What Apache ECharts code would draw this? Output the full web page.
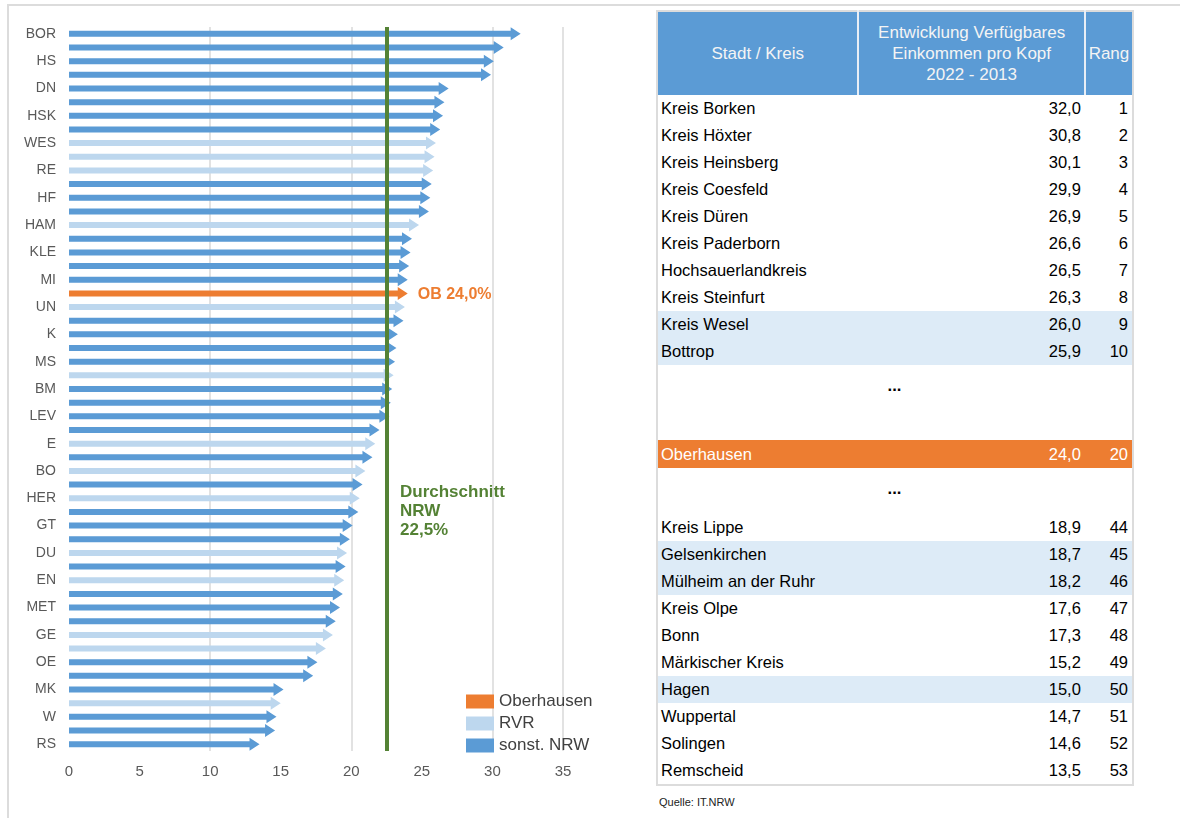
<!DOCTYPE html>
<html>
<head>
<meta charset="utf-8">
<script src="https://cdn.jsdelivr.net/npm/echarts@6/dist/echarts.min.js"></script>
<style>
  html, body { margin: 0; padding: 0; background: #fff; }
  body { width: 1180px; height: 818px; position: relative; overflow: hidden;
         font-family: "Liberation Sans", Arial, sans-serif; }
  .frame { position: absolute; left: 7px; top: 4px; right: 0; bottom: 0;
           border-left: 2px solid #dcdcdc; border-top: 2px solid #dcdcdc; }
  #chart { position: absolute; left: 0; top: 0; width: 640px; height: 818px; }
  #tbl { position: absolute; left: 656px; top: 10px; width: 478px; table-layout: fixed;
         border-collapse: collapse; border: 2px solid #dcdcdc; font-size: 16.5px; color: #000; }
  #tbl th { background: #5b9bd5; color: #f4f4f4; font-weight: normal; height: 83px; font-size: 17px;
            line-height: 21px; padding: 0; border-right: 2px solid #e8eef6; }
  #tbl th:last-child { border-right: none; }
  #tbl td { height: 27px; padding: 0 4px 0 3px; white-space: nowrap; line-height: 19px; }
  #tbl td.num { text-align: right; }
  #tbl tr.rvr td { background: #ddebf7; }
  #tbl tr.ob td { background: #ed7d31; color: #fff; height: 28px; }
  #tbl td.dots { text-align: center; font-weight: bold; vertical-align: top; padding-top: 11px; }
  .src { position: absolute; left: 659px; top: 796px; font-size: 11px; color: #222; }
</style>
</head>
<body>
<div class="frame"></div>
<div id="chart"></div>
<table id="tbl"></table>
<div class="src">Quelle: IT.NRW</div>
<script>
// Kürzel je Rang (nur jede zweite Zeile wird beschriftet)
const codes = [
  'BOR', 'HX', 'HS', 'COE', 'DN', 'PB', 'HSK', 'ST', 'WES', 'BOT',
  'RE', 'Rang 12', 'HF', 'Rang 14', 'HAM', 'Rang 16', 'KLE', 'Rang 18', 'MI', 'OB',
  'UN', 'Rang 22', 'K', 'Rang 24', 'MS', 'DO', 'BM', 'Rang 28', 'LEV', 'Rang 30',
  'E', 'Rang 32', 'BO', 'Rang 34', 'HER', 'Rang 36', 'GT', 'Rang 38', 'DU', 'Rang 40',
  'EN', 'Rang 42', 'MET', 'LIP', 'GE', 'MH', 'OE', 'BN', 'MK', 'HA',
  'W', 'SG', 'RS'
];
// Entwicklung verfügbares Einkommen pro Kopf in %
const values = [
  32.0, 30.8, 30.1, 29.9, 26.9, 26.6, 26.5, 26.3, 26.0, 25.9,
  25.8, 25.7, 25.6, 25.5, 24.8, 24.3, 24.2, 24.1, 24.0, 24.0,
  23.8, 23.7, 23.3, 23.2, 23.1, 23.0, 22.9, 22.8, 22.7, 22.0,
  21.7, 21.5, 21.0, 20.8, 20.6, 20.5, 20.1, 19.9, 19.7, 19.6,
  19.5, 19.4, 19.2, 18.9, 18.7, 18.2, 17.6, 17.3, 15.2, 15.0,
  14.7, 14.6, 13.5
];
// Gruppe: ob = Oberhausen, rvr = RVR, nrw = sonst. NRW
const groups = [
  'nrw', 'nrw', 'nrw', 'nrw', 'nrw', 'nrw', 'nrw', 'nrw', 'rvr', 'rvr',
  'rvr', 'nrw', 'nrw', 'nrw', 'rvr', 'nrw', 'nrw', 'nrw', 'nrw', 'ob',
  'rvr', 'nrw', 'nrw', 'nrw', 'nrw', 'rvr', 'nrw', 'nrw', 'nrw', 'nrw',
  'rvr', 'nrw', 'rvr', 'nrw', 'rvr', 'nrw', 'nrw', 'nrw', 'rvr', 'nrw',
  'rvr', 'nrw', 'nrw', 'nrw', 'rvr', 'rvr', 'nrw', 'nrw', 'nrw', 'rvr',
  'nrw', 'nrw', 'nrw'
];
const nrwAverage = 22.5;
const xTicks = [0, 35, 5];   // min, max, interval

const groupNames  = { ob: 'Oberhausen', rvr: 'RVR', nrw: 'sonst. NRW' };
const groupColors = { ob: '#ed7d31', rvr: '#bdd7ee', nrw: '#5b9bd5' };

// Tabelle
const topNames = ['Kreis Borken', 'Kreis Höxter', 'Kreis Heinsberg', 'Kreis Coesfeld', 'Kreis Düren',
  'Kreis Paderborn', 'Hochsauerlandkreis', 'Kreis Steinfurt', 'Kreis Wesel', 'Bottrop'];
const topRanks = [1, 2, 3, 4, 5, 6, 7, 8, 9, 10];
const obName = 'Oberhausen';
const obRank = 20;
const bottomNames = ['Kreis Lippe', 'Gelsenkirchen', 'Mülheim an der Ruhr', 'Kreis Olpe', 'Bonn',
  'Märkischer Kreis', 'Hagen', 'Wuppertal', 'Solingen', 'Remscheid'];
const bottomRanks = [44, 45, 46, 47, 48, 49, 50, 51, 52, 53];

const fmt = v => v.toFixed(1).replace('.', ',');

function buildTable() {
  const row = (name, rank) => {
    const g = groups[rank - 1];
    const cls = g === 'nrw' ? '' : g;
    return `<tr class="${cls}"><td>${name}</td><td class="num">${fmt(values[rank - 1])}</td><td class="num">${rank}</td></tr>`;
  };
  let html = '<tr><th style="width:199px">Stadt / Kreis</th>' +
    '<th style="width:224px">Entwicklung Verfügbares<br>Einkommen pro Kopf<br>2022 - 2013</th>' +
    '<th style="width:46px">Rang</th></tr>';
  topNames.forEach((n, i) => { html += row(n, topRanks[i]); });
  html += '<tr><td colspan="3" class="dots" style="height:33px">...</td></tr>';
  html += '<tr><td colspan="3" style="height:31px"></td></tr>';
  html += row(obName, obRank);
  html += '<tr><td colspan="3" class="dots" style="height:35px">...</td></tr>';
  bottomNames.forEach((n, i) => { html += row(n, bottomRanks[i]); });
  document.getElementById('tbl').innerHTML = html;
}

/** Pfeil vom Nullpunkt bis zum Wert */
function makeRender(withLabel) {
  return function (params, api) {
    const c = api.value(1);
    const v = api.value(0);
    const p0 = api.coord([0, c]);
    const p1 = api.coord([v, c]);
    const y = p0[1];
    const shaft = 3, head = 6.5, len = 10;
    const hx = p1[0] - len;
    const children = [{
      type: 'polygon',
      shape: { points: [[p0[0], y - shaft], [hx, y - shaft], [hx, y - head], [p1[0], y],
                        [hx, y + head], [hx, y + shaft], [p0[0], y + shaft]] },
      style: { fill: api.visual('color') }
    }];
    if (withLabel) {
      children.push({
        type: 'text',
        x: p1[0] + 10, y: y + 1,
        style: { text: 'OB ' + fmt(v) + '%', fill: '#ed7d31', font: 'bold 16px "Liberation Sans", Arial, sans-serif',
                 verticalAlign: 'middle', align: 'left' }
      });
    }
    return { type: 'group', children };
  };
}

function buildSeries(g) {
  const data = values.map((v, i) => [v, i]).filter((d, i) => groups[i] === g);
  const s = {
    name: groupNames[g],
    type: 'custom',
    renderItem: makeRender(g === 'ob'),
    encode: { x: 0, y: 1 },
    itemStyle: { color: groupColors[g] },
    data
  };
  if (g === 'nrw') {
    s.markLine = {
      silent: true,
      symbol: 'none',
      z: 10,
      label: { show: false },
      lineStyle: { color: '#548235', width: 4, type: 'solid', opacity: 1 },
      data: [{ xAxis: nrwAverage }]
    };
  }
  return s;
}

const font = '"Liberation Sans", Arial, sans-serif';
const chart = echarts.init(document.getElementById('chart'));
chart.setOption({
  animation: false,
  backgroundColor: 'transparent',
  textStyle: { fontFamily: font },
  grid: { left: 69, top: 27, width: 494, height: 724 },
  xAxis: [
    {
      type: 'value', min: xTicks[0], max: xTicks[1], interval: xTicks[2],
      axisLine: { show: false }, axisTick: { show: false },
      axisLabel: { color: '#595959', fontSize: 15, margin: 13 },
      splitLine: { show: false }
    },
    {
      type: 'value', min: xTicks[0], max: xTicks[1], interval: xTicks[2] * 2,
      position: 'bottom',
      axisLine: { show: false }, axisTick: { show: false }, axisLabel: { show: false },
      splitLine: { show: true, showMinLine: false, lineStyle: { color: '#d9d9d9', width: 1.5 } }
    }
  ],
  yAxis: {
    type: 'category', inverse: true, data: codes,
    axisLine: { show: false }, axisTick: { show: false },
    axisLabel: { color: '#595959', fontSize: 14, margin: 13, interval: 1 }
  },
  legend: {
    orient: 'vertical', left: 461, top: 688,
    icon: 'rect', itemWidth: 28, itemHeight: 14, itemGap: 5,
    textStyle: { color: '#404040', fontSize: 17 },
    data: ['Oberhausen', 'RVR', 'sonst. NRW'],
    selectedMode: false
  },
  graphic: [{
    type: 'text', left: 400, top: 483,
    style: { text: 'Durchschnitt\nNRW\n' + fmt(nrwAverage) + '%', fill: '#548235',
             font: 'bold 17px ' + font, lineHeight: 19 }
  }],
  series: ['nrw', 'rvr', 'ob'].map(buildSeries)
});

buildTable();
</script>
</body>
</html>
